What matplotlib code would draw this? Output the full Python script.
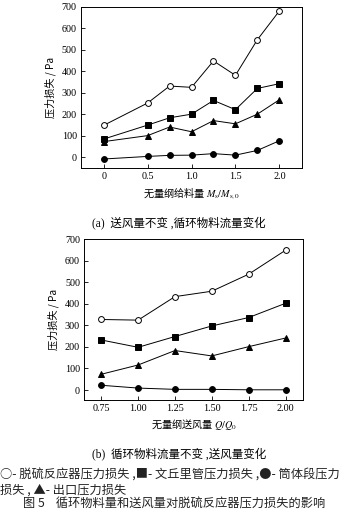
import matplotlib
matplotlib.use("Agg")
import matplotlib.pyplot as plt

plt.rcParams['font.family'] = ['Liberation Serif', 'Noto Sans CJK SC', 'DejaVu Sans']
plt.rcParams['mathtext.fontset'] = 'stix'

# (a) feed rate varies
xa = [0, 0.5, 0.75, 1.0, 1.25, 1.5, 1.75, 2.0]
a_reactor = [148, 252, 331, 325, 448, 381, 547, 681]
a_venturi = [84, 149, 183, 200, 264, 221, 320, 342]
a_outlet = [72, 100, 140, 118, 170, 155, 200, 267]
a_body = [-9, 3, 8, 9, 16, 9, 31, 76]
xa_ticks = [0, 0.5, 1.0, 1.5, 2.0]
xa_labels = ["0", "0.5", "1.0", "1.5", "2.0"]

# (b) air flow varies
xb = [0.75, 1.0, 1.25, 1.5, 1.75, 2.0]
b_reactor = [327, 324, 433, 458, 537, 648]
b_venturi = [232, 198, 248, 297, 336, 402]
b_outlet = [73, 116, 183, 158, 201, 241]
b_body = [22, 9, 3, 3, 1, 1]
xb_labels = ["0.75", "1.00", "1.25", "1.50", "1.75", "2.00"]

y_ticks = [0, 100, 200, 300, 400, 500, 600, 700]

fig = plt.figure(figsize=(3.58, 5.30), dpi=100)
ax1 = fig.add_axes([0.226, 0.683, 0.618, 0.304])
ax2 = fig.add_axes([0.235, 0.245, 0.612, 0.304])

cjk = ['Noto Sans CJK SC', 'DejaVu Sans']


def draw(ax, x, series, xlim, ylim):
    styles = [('o', 'white'), ('s', 'black'), ('^', 'black'), ('o', 'black')]
    for y, (m, fc) in zip(series, styles):
        ax.plot(x, y, color='black', lw=0.7, marker=m, ms=4.2,
                mfc=fc, mec='black', mew=0.7)
    ax.set_xlim(*xlim)
    ax.set_ylim(*ylim)
    ax.set_yticks(y_ticks)
    ax.tick_params(direction='in', length=3, width=0.6, labelsize=7.3, pad=3)
    for s in ax.spines.values():
        s.set_linewidth(0.7)
    ax.set_ylabel("压力损失 / Pa", family=['Noto Sans CJK SC', 'Liberation Serif'],
                  fontsize=7.3, labelpad=4)


draw(ax1, xa, [a_reactor, a_venturi, a_outlet, a_body], (-0.26, 2.26), (-51, 700))
ax1.set_xticks(xa_ticks)
ax1.set_xticklabels(xa_labels)
ax1.set_xlabel(r"无量纲给料量 $M_\mathrm{s}/M_\mathrm{s,0}$",
               family=['Noto Sans CJK SC', 'DejaVu Sans'], fontsize=7.3, labelpad=3)

draw(ax2, xb, [b_reactor, b_venturi, b_outlet, b_body], (0.634, 2.12), (-47, 700))
ax2.set_xticks(xb)
ax2.set_xticklabels(xb_labels)
ax2.set_xlabel(r"无量纲送风量 $Q/Q_0$",
               family=['Noto Sans CJK SC', 'DejaVu Sans'], fontsize=7.3, labelpad=3)

fig.text(0.5, 1 - 223 / 530, "(a)  送风量不变 ,循环物料流量变化",
         family=['Liberation Serif', 'Noto Sans CJK SC'], fontsize=8.3,
         ha='center', va='center')
fig.text(0.5, 1 - 454 / 530, "(b)  循环物料流量不变 ,送风量变化",
         family=['Liberation Serif', 'Noto Sans CJK SC'], fontsize=8.3,
         ha='center', va='center')

fig.text(0.0, 1 - 475 / 530, "○- 脱硫反应器压力损失 ,■- 文丘里管压力损失 ,●- 筒体段压力",
         family=cjk, fontsize=8.8, ha='left', va='center', color='#222222')
fig.text(0.0, 1 - 490 / 530, "损失 , ▲- 出口压力损失",
         family=cjk, fontsize=8.8, ha='left', va='center', color='#222222')
fig.text(0.485, 1 - 504 / 530, "图 5    循环物料量和送风量对脱硫反应器压力损失的影响",
         family=cjk, fontsize=8.8, ha='center', va='center', color='#222222')

fig.savefig("out.png", dpi=100)
